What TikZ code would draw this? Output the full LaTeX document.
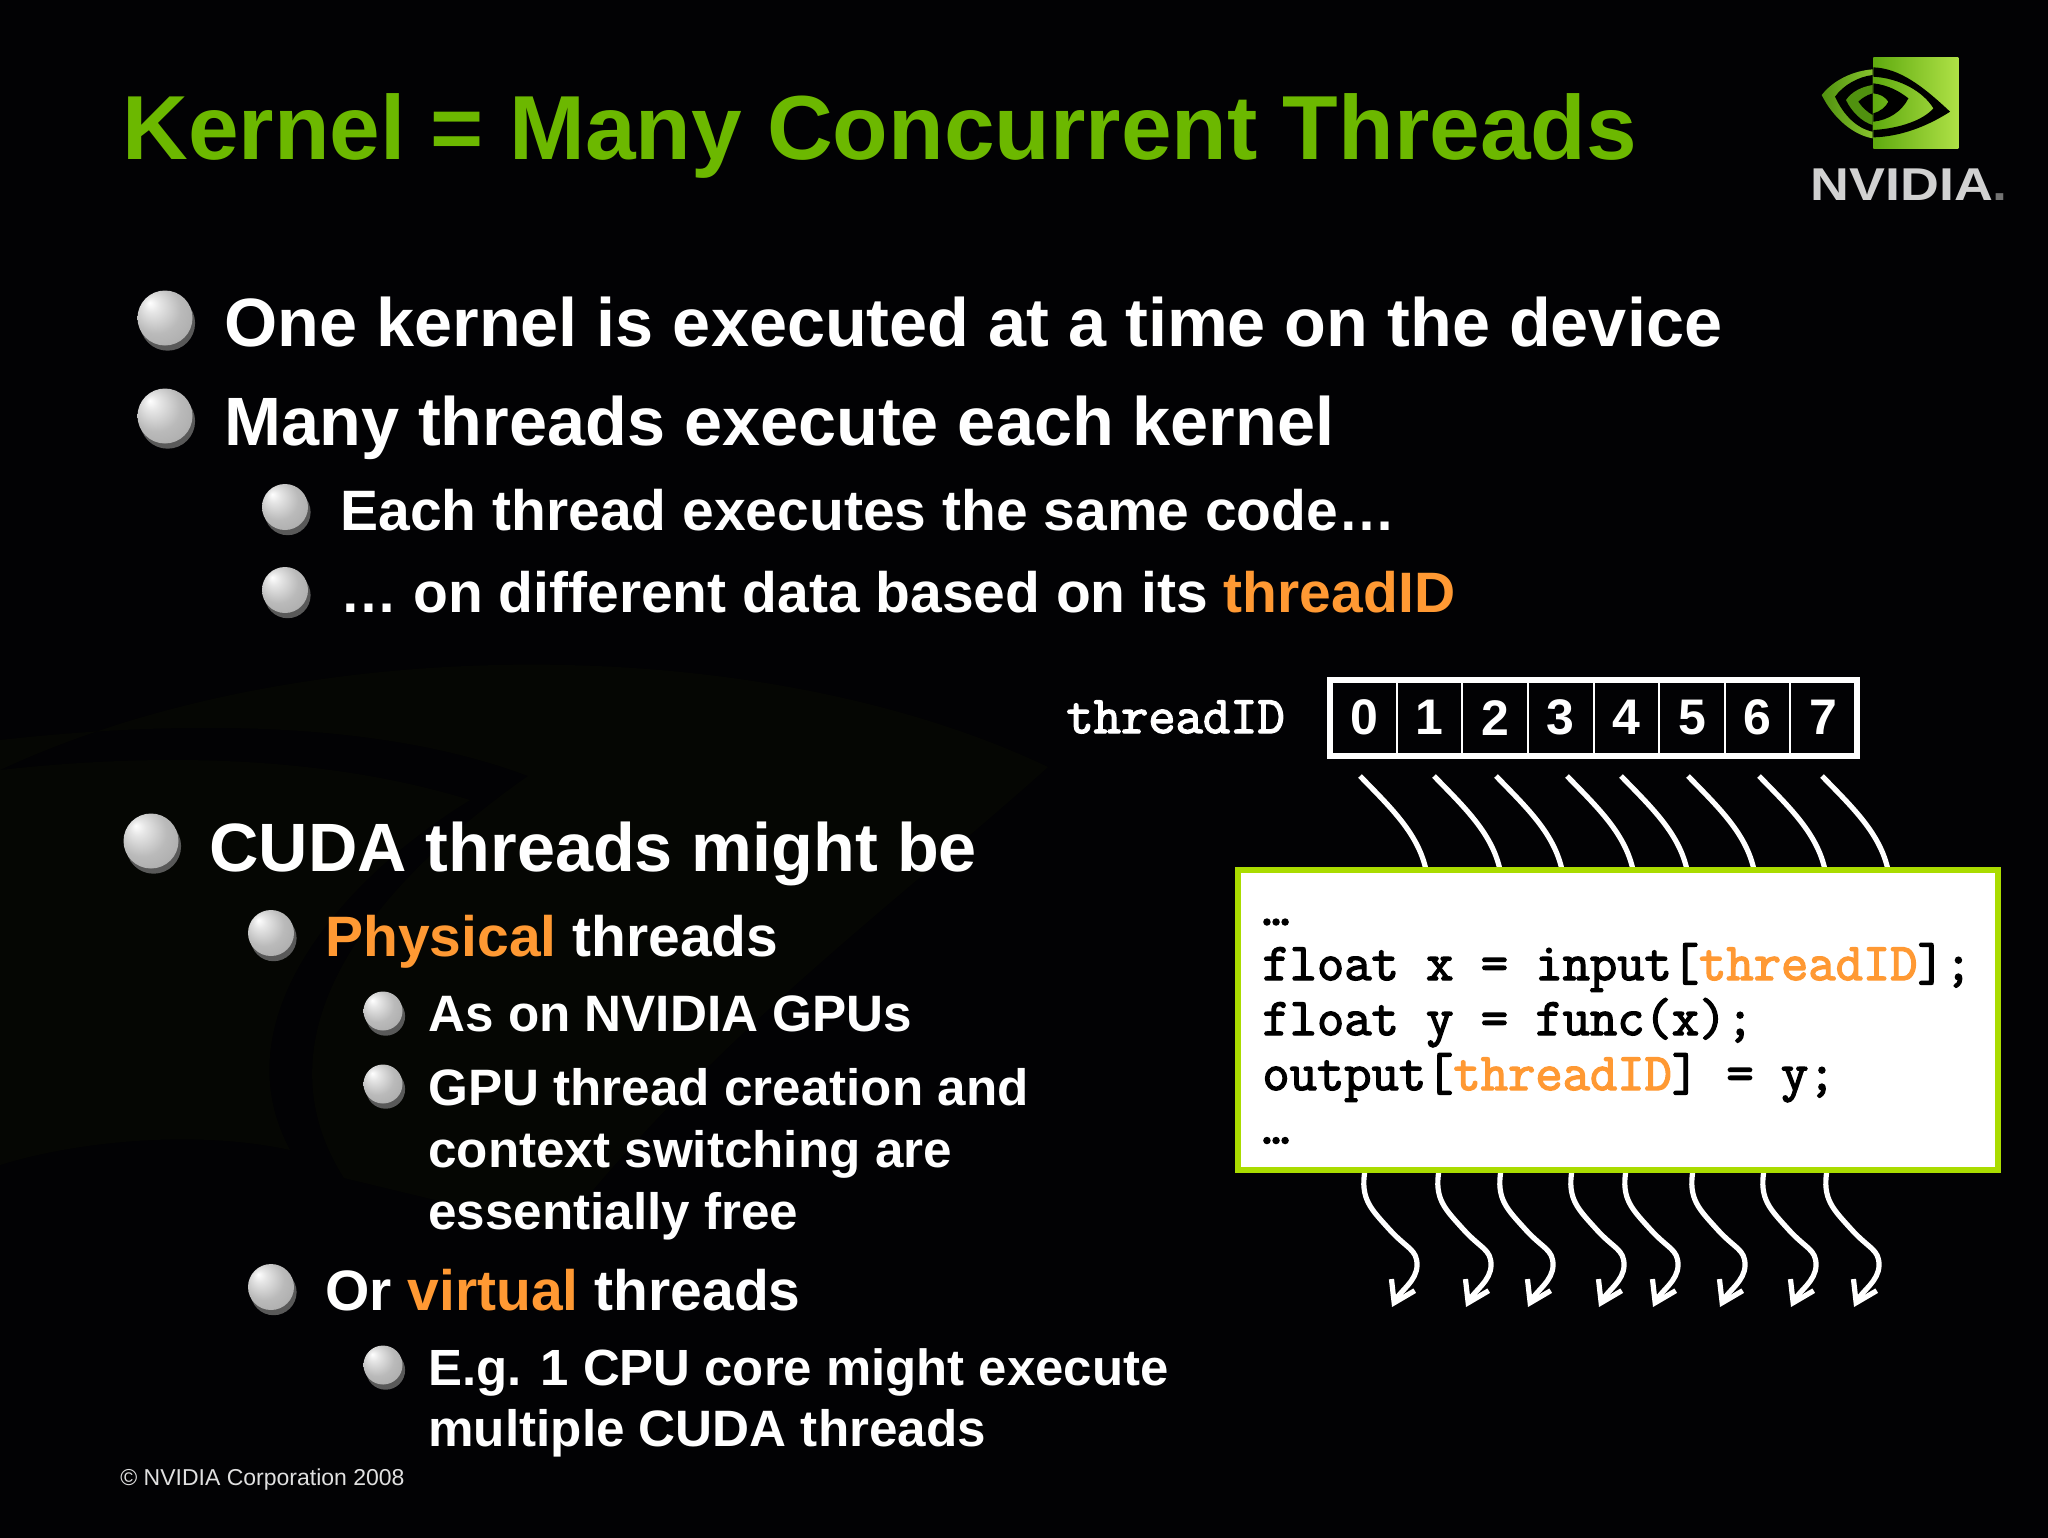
\documentclass[tikz,border=0pt]{standalone}
\usepackage{fontspec}
\setmainfont{Liberation Sans}
\newfontfamily\codefont[FakeBold=2.6]{Latin Modern Mono}
\usetikzlibrary{arrows.meta,shadows}
\definecolor{slidebg}{RGB}{2,2,4}
\definecolor{swirl}{RGB}{5,6,3}
\definecolor{titlegreen}{RGB}{108,184,0}
\definecolor{boxgreen}{RGB}{170,220,0}
\definecolor{idorange}{RGB}{255,153,51}
\definecolor{eyedark}{RGB}{80,145,15}
\definecolor{eyelight}{RGB}{135,195,45}
\definecolor{squaredark}{RGB}{95,170,15}
\definecolor{squarelight}{RGB}{175,225,70}
\pgfdeclareradialshading{pearl}{\pgfpoint{-14bp}{14bp}}{%
    color(0bp)=(white);
    color(7bp)=(black!10);
    color(22bp)=(black!27);
    color(40bp)=(black!35);
    color(50bp)=(black!55)}
\tikzset{
    ball/.style={circle,draw=none,inner sep=0pt,shading=pearl,
        drop shadow={shadow xshift=1.3pt,shadow yshift=-2.6pt,opacity=1,fill=black!65}},
    bigball/.style={ball,minimum size=27.5pt},
    midball/.style={ball,minimum size=23pt},
    smallball/.style={ball,minimum size=19.5pt},
    line/.style={anchor=base west,text=white,font=\bfseries,inner sep=0pt},
    codeline/.style={anchor=base west,text=black,font=\codefont\fontsize{26.5}{26}\selectfont,inner sep=0pt},
    cell/.style={rectangle,draw=white,line width=1pt,minimum width=32.8pt,minimum height=37pt,inner sep=0pt,
        text=white,font=\bfseries\fontsize{25}{25}\selectfont},
    threadline/.style={draw=white,line width=2.6pt},
}
\newcommand{\idtext}[1]{\textcolor{idorange}{#1}}
\newcommand{\fsize}[1]{\fontsize{#1}{#1}\selectfont}

\begin{document}
\begin{tikzpicture}[x=0.5pt,y=-0.5pt]
    \useasboundingbox (0,0) rectangle (2048,1537);
    \fill[slidebg] (-10,-10) rectangle (2058,1547);
    \fill[swirl] (0,770) .. controls (300,630) and (760,630) .. (1048,767) .. controls (900,900) and (720,1030) .. (560,1230) -- (344,1178) .. controls (250,1030) and (380,880) .. (528,776) .. controls (380,720) and (180,720) .. (0,740) -- cycle;
    \fill[swirl] (0,770) .. controls (180,750) and (340,760) .. (470,800) .. controls (340,880) and (220,1020) .. (290,1150) .. controls (200,1130) and (80,1140) .. (0,1165) -- cycle;

    \node[line,text=titlegreen,font=\bfseries\fsize{45.5}] (title) at (122,159) {Kernel = Many Concurrent Threads};

    \begin{scope}[shift={(1760,30)},x=0.1667pt,y=-0.1667pt]
        \fill[left color=eyedark,right color=eyelight] (185,195) .. controls (220,150) and (280,122) .. (338,118) -- (338,325) .. controls (280,315) and (220,265) .. (185,195) -- cycle;
        \fill[black] (225,200) .. controls (250,165) and (295,140) .. (338,135) -- (338,305) .. controls (290,295) and (250,255) .. (225,200) -- cycle;
        \fill[eyedark] (258,210) .. controls (275,185) and (305,170) .. (338,165) -- (338,285) .. controls (305,275) and (275,245) .. (258,210) -- cycle;
        \fill[black] (295,215) .. controls (305,205) and (320,195) .. (338,190) -- (338,255) .. controls (320,245) and (305,230) .. (295,215) -- cycle;
        \shade[shading angle=50,left color=squaredark,right color=squarelight] (340,82) rectangle (595,355);
        \fill[black] (340,112) .. controls (420,115) and (490,170) .. (570,245) .. controls (500,290) and (420,320) .. (340,322) -- (340,300) .. controls (420,295) and (490,270) .. (520,235) .. controls (490,185) and (420,145) .. (340,140) -- cycle;
        \fill[black] (340,160) .. controls (385,165) and (420,185) .. (445,205) .. controls (425,245) and (385,270) .. (340,275) -- (340,250) .. controls (360,245) and (378,230) .. (385,215) .. controls (375,200) and (360,192) .. (340,190) -- cycle;
    \end{scope}
    \node[line,text=black!18,xscale=1.17,font=\bfseries\fsize{23}] (logo) at (1810,200) {NVIDIA\textcolor{black!55}{.}};

    \node[bigball] (b1) at (165,318) {};
    \node[line,font=\bfseries\fsize{34.2}] (t1) at (224,346) {One kernel is executed at a time on the device};
    \node[bigball] (b2) at (165,416) {};
    \node[line,font=\bfseries\fsize{34.2}] (t2) at (224,445) {Many threads execute each kernel};
    \node[midball] (b3) at (285,507) {};
    \node[line,font=\bfseries\fsize{28.5}] (t3) at (340,530) {Each thread executes the same code…};
    \node[midball] (b4) at (285,590) {};
    \node[line,font=\bfseries\fsize{28.5}] (t4) at (340,612) {… on different data based on its \idtext{threadID}};

    \node[bigball] (b5) at (151,841) {};
    \node[line,font=\bfseries\fsize{34.2}] (t5) at (209,871) {CUDA threads might be};
    \node[midball] (b6) at (271,933) {};
    \node[line,font=\bfseries\fsize{28.5}] (t6) at (325,956) {\idtext{Physical} threads};
    \node[smallball] (b7) at (383,1011) {};
    \node[line,font=\bfseries\fsize{25.6}] (t7) at (428,1031) {As on NVIDIA GPUs};
    \node[smallball] (b8) at (383,1084) {};
    \node[line,font=\bfseries\fsize{25.6}] (t8a) at (428,1105) {GPU thread creation and};
    \node[line,font=\bfseries\fsize{25.6}] (t8b) at (428,1167) {context switching are};
    \node[line,font=\bfseries\fsize{25.6}] (t8c) at (428,1229) {essentially free};
    \node[midball] (b9) at (271,1287) {};
    \node[line,font=\bfseries\fsize{28.5}] (t9) at (325,1310) {Or \idtext{virtual} threads};
    \node[smallball] (b10) at (383,1365) {};
    \node[line,font=\bfseries\fsize{25.45}] (t10a) at (428,1385) {E.g. 1 CPU core might execute};
    \node[line,font=\bfseries\fsize{25.6}] (t10b) at (428,1446) {multiple CUDA threads};

    \node[line,text=black!12,font=\fsize{11.5}] (copy) at (120,1485) {© NVIDIA Corporation 2008};

    \node[codeline,text=white] (idlabel) at (1066,733) {threadID};
    \foreach \i in {0,...,7}
        \node[cell] (cell\i) at (1364+65.6*\i,717.6) {\i};
    \draw[white,line width=3pt] (cell0.north west) rectangle (cell7.south east);

    \foreach \i/\x in {0/1360,1/1434,2/1496,3/1567,4/1621,5/1688,6/1759,7/1822} {
        \coordinate (in\i) at (\x,776);
        \coordinate (ent\i) at (\x+66,870);
        \coordinate (out\i) at (\x+5,1170);
        \draw[threadline] (in\i) .. controls +(30,31) and +(-8,-37) .. (ent\i);
        \draw[threadline,-{Straight Barb[length=10pt,width=13pt,line width=2.6pt]}] (out\i)
            .. controls +(-5,29) and +(-18,-20) .. ++(24,59)
            .. controls +(18,20) and +(0,-16) .. ++(28,36)
            .. controls +(0,16) and +(8,-16) .. ++(-25,42);
    }

    \node[rectangle,fill=white,draw=boxgreen,line width=3pt,minimum width=380pt,minimum height=150pt,inner sep=0pt] (code) at (1618,1020.4) {};
    \node[codeline] (code0) at (1262,925) {…};
    \node[codeline] (code1) at (1262,980) {float x = input[\idtext{threadID}];};
    \node[codeline] (code2) at (1262,1035) {float y = func(x);};
    \node[codeline] (code3) at (1262,1090) {output[\idtext{threadID}] = y;};
    \node[codeline] (code4) at (1262,1143.5) {…};
\end{tikzpicture}
\end{document}
